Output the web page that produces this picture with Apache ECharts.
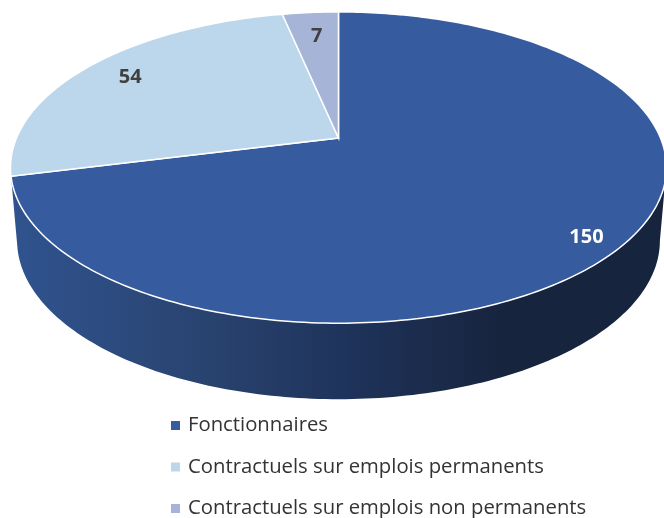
<!DOCTYPE html>
<html>
<head>
<meta charset="utf-8">
<style>html,body{margin:0;padding:0;background:#fff}#c{width:664px;height:518px}</style>
<script src="https://cdn.jsdelivr.net/npm/echarts@6/dist/echarts.min.js"></script>
</head>
<body>
<div id="c"></div>
<script>
const categories = ['Fonctionnaires', 'Contractuels sur emplois permanents', 'Contractuels sur emplois non permanents'];
const values = [150, 54, 7];
const colors = ['#365B9F', '#BCD6EC', '#A6B4D8'];
const labelColors = ['#FFFFFF', '#404040', '#404040'];
const labelRadius = [0.88, 0.83, 0.78];
const labelShift = [[-1, 9], [1, 0], [1, 0]];

const total = values.reduce((a, b) => a + b, 0);
const apex = [338.5, 138];
const persp = { d: 322, a: 150, c: 0.19 };
const depth = { sx: 0.98, sy: 1.02, dy: 72.3 };
const toRad = Math.PI / 180;

function project(thetaDeg, r) {
  const u = Math.sin(thetaDeg * toRad) * r;
  const v = Math.cos(thetaDeg * toRad) * r;
  const w = 1 + persp.c * v;
  return [persp.d * u / w, persp.a * v / w];
}
function topPt(thetaDeg, r) {
  const p = project(thetaDeg, r);
  return [apex[0] + p[0], apex[1] - p[1]];
}
function lowPt(thetaDeg) {
  const p = project(thetaDeg, 1);
  return [apex[0] + depth.sx * p[0], apex[1] - depth.sy * p[1] + depth.dy];
}
function arc(fn, from, to) {
  const pts = [];
  const n = Math.max(2, Math.ceil(Math.abs(to - from)));
  for (let i = 0; i <= n; i++) pts.push(fn(from + (to - from) * i / n));
  return pts;
}

const sideFill = new echarts.graphic.LinearGradient(0, 0, 1, 0, [
  { offset: 0, color: '#30538F' },
  { offset: 0.3, color: '#29436F' },
  { offset: 0.5, color: '#1F345C' },
  { offset: 0.75, color: '#17243E' },
  { offset: 1, color: '#17243E' }
]);

function makeRender(idx) {
  return function (params, api) {
    const start = api.value(0) / total * 360;
    const end = start + api.value(1) / total * 360;
    const children = [];
    const sideFrom = Math.max(start, Math.acos(-persp.c) / toRad);
    const sideTo = Math.min(end, 270);
    if (sideTo > sideFrom && idx === 0) {
      const upper = arc(t => topPt(t, 1), sideFrom, sideTo);
      const lower = arc(lowPt, sideTo, sideFrom);
      children.push({ type: 'polygon', shape: { points: upper.concat(lower) }, style: { fill: sideFill }, z2: 1 });
    }
    const pts = [apex.slice()].concat(arc(t => topPt(t, 1), start, end));
    children.push({ type: 'polygon', shape: { points: pts }, style: { fill: colors[idx], stroke: '#fff', lineWidth: 1.5 }, z2: 2 });
    const lp = topPt((start + end) / 2, labelRadius[idx]);
    children.push({
      type: 'text', z2: 3,
      style: {
        x: lp[0] + labelShift[idx][0], y: lp[1] + labelShift[idx][1],
        text: String(api.value(1)), fill: labelColors[idx],
        font: 'bold 20px "Open Sans"', align: 'center', verticalAlign: 'middle'
      }
    });
    return { type: 'group', children };
  };
}

let cum = 0;
const series = categories.map((name, i) => {
  const s = {
    type: 'custom', name, coordinateSystem: 'none',
    itemStyle: { color: colors[i] },
    encode: { value: [0, 1] },
    animation: false, silent: true,
    data: [[cum, values[i]]],
    renderItem: makeRender(i)
  };
  cum += values[i];
  return s;
});

const chart = echarts.init(document.getElementById('c'), null, { renderer: 'canvas' });
chart.setOption({
  backgroundColor: '#fff',
  animation: false,
  legend: {
    orient: 'vertical', left: 171, top: 414, height: 160,
    icon: 'rect', itemWidth: 9, itemHeight: 9, itemGap: 18.5,
    padding: 0, selectedMode: false,
    data: categories,
    textStyle: { fontFamily: 'Open Sans', fontSize: 20.3, color: '#333', padding: [0, 0, 0, 3], height: 23, lineHeight: 23 }
  },
  series
});
</script>
</body>
</html>
